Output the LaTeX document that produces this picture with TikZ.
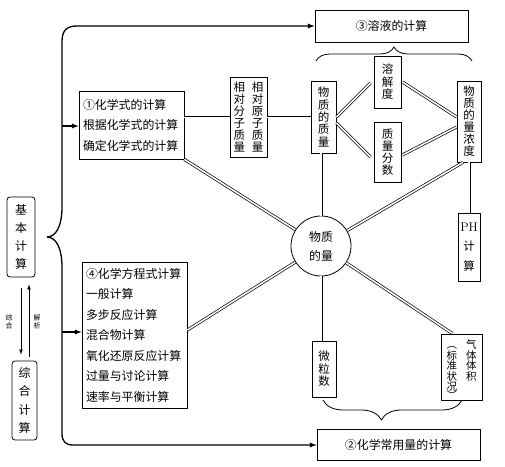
\documentclass[tikz,border=0pt]{standalone}
\usepackage{fontspec}
\newfontfamily\cjk{Noto Sans CJK SC}
\usetikzlibrary{decorations.pathreplacing}

\begin{document}
\begin{tikzpicture}[
      x=1pt, y=1pt,
      every node/.style={font=\cjk\fontsize{11.5}{12}\selectfont, inner sep=0pt},
      box/.style={rectangle, line width=0.8pt, draw=black, align=center},
      rbox/.style={box, rounded corners=3pt},
      list/.style={box, align=left, inner xsep=4pt, text width=97pt, font=\cjk\fontsize{11.9}{20.5}\selectfont},
      dim/.style 2 args={minimum width=#1pt, minimum height=#2pt},
      link/.style={double, double distance=1.6pt, line width=0.7pt},
      heavylink/.style={double, double distance=0.8pt, line width=1pt},
      arr/.style={line width=1.3pt, ->, >=latex},
      tinyarr/.style={line width=0.7pt, ->, >=latex},
      curly/.style={decorate, decoration={brace, amplitude=#1}, line width=0.8pt}
      ]
      \useasboundingbox (0,0) rectangle (505,466);
      % top and bottom targets
      \node[box, dim={153}{32}, font=\cjk\fontsize{11.9}{14}\selectfont] (soln) at (391.5,440) {③溶液的计算};
      \node[box, dim={163}{31}, font=\cjk\fontsize{11.9}{14}\selectfont] (chang) at (398.5,21) {②化学常用量的计算};
      % left lists
      \node[list, minimum height=68pt] (f1) at (131.5,341) {①化学式的计算\\根据化学式的计算\\确定化学式的计算};
      \node[list, minimum height=146pt] (f4) at (134.5,131) {④化学方程式计算\\一般计算\\多步反应计算\\混合物计算\\氧化还原反应计算\\过量与讨论计算\\速率与平衡计算};
      % quantities
      \node[box, dim={37}{80}] (rel) at (248.5,349) {相\hspace{7pt}相\\对\hspace{7pt}对\\分\hspace{7pt}原\\子\hspace{7pt}子\\质\hspace{7pt}质\\量\hspace{7pt}量};
      \node[box, dim={25}{72}, font=\cjk\fontsize{11.5}{12.4}\selectfont] (mass) at (323.5,349) {物\\质\\的\\质\\量};
      \node[box, dim={27}{52}, font=\cjk\fontsize{11.5}{12.5}\selectfont] (sol) at (387.5,384) {溶\\解\\度};
      \node[box, dim={27}{60}] (frac) at (387.5,314) {质\\量\\分\\数};
      \node[box, dim={24}{81}] (conc) at (469,344.5) {物\\质\\的\\量\\浓\\度};
      \node[box, dim={22}{68}, font=\cjk\fontsize{11.5}{19.5}\selectfont] (ph) at (469,219) {{\rmfamily\fontsize{12.5}{19.5}\selectfont PH}\\计\\算};
      \node[circle, draw, line width=0.8pt, minimum size=60pt, align=center, font=\cjk\fontsize{11.9}{19}\selectfont] (mol) at (321,220) {物质\\的量};
      \node[box, dim={24}{56}, font=\cjk\fontsize{11.5}{12.5}\selectfont] (num) at (324,97) {微\\粒\\数};
      \node[box, dim={41}{66}] (gas) at (461.5,99) {};
      \node[anchor=north, align=left, font=\cjk\fontsize{10.5}{9.6}\selectfont] (gastext) at ([yshift=-6pt]gas.north) {︵\hspace{9pt}气\\标\hspace{9pt}体\\准\hspace{9pt}体\\状\hspace{9pt}积\\况\\︶};
      % basic / combined
      \node[rbox, dim={28}{80}, font=\cjk\fontsize{11.9}{18}\selectfont] (basic) at (21,229) {基\\本\\计\\算};
      \node[rbox, dim={25}{79}, font=\cjk\fontsize{11.9}{18.3}\selectfont] (comp) at (24.5,65.5) {综\\合\\计\\算};
      \node[align=center, font=\cjk\fontsize{7}{8}\selectfont] (synth) at (9,144) {综\\合};
      \node[align=center, font=\cjk\fontsize{7}{8}\selectfont] (anal) at (37,144) {解\\析};
      \draw[tinyarr] ([yshift=-11pt]basic.south) -- ([xshift=-3.5pt,yshift=6pt]comp.north);
      \draw[tinyarr] ([xshift=4.5pt,yshift=4pt]comp.north) -- ([xshift=8pt,yshift=-7pt]basic.south);
      % big bracket
      \coordinate (tip) at (47,229);
      \draw[arr] (tip) .. controls (56,229) and (62,240) .. (62,259) -- (62,424) .. controls (62,435) and (66,440) .. (77,440) -- (soln.west);
      \draw[arr] (tip) .. controls (56,229) and (62,218) .. (62,199) -- (62,33) .. controls (62,25) and (65,21) .. (73,21) -- (chang.west);
      \coordinate (b1) at (62,340);
      \coordinate (b4) at (62,134);
      \draw[arr] (b1) -- (b1 -| f1.west);
      \draw[arr] (b4) -- (b4 -| f4.west);
      % braces
      \draw[curly=14pt] (316,405) -- (472,405);
      \draw[curly=20pt, decoration={aspect=0.58}] (462,66) -- (323,66);
      % links
      \draw[heavylink] (rel.west) -- (rel.west -| f1.east);
      \draw[heavylink] (rel.east) -- (mass.west);
      \draw[link] (mass.east) -- ([xshift=-3pt,yshift=-1pt]sol.west);
      \draw[link] ([yshift=-6pt]mass.east) -- ([xshift=-3pt,yshift=-5pt]frac.west);
      \draw[link] ([xshift=1pt]sol.east) -- ([yshift=4.5pt]conc.west);
      \draw[link] ([xshift=1pt,yshift=-3pt]frac.east) -- ([yshift=-5.5pt]conc.west);
      \draw[link] (mass.south -| mol) -- (mol);
      \draw[link] ([xshift=-6pt]conc.south) -- (mol);
      \draw[link] (conc.south) -- (ph.north);
      \draw[link] (f1.south east) -- (mol);
      \draw[link] ([yshift=5pt]f4.east) -- (mol);
      \draw[link] (mol) -- (mol |- num.north);
      \draw[link] (mol) -- ([xshift=-9pt]gas.north);
\end{tikzpicture}
\end{document}
